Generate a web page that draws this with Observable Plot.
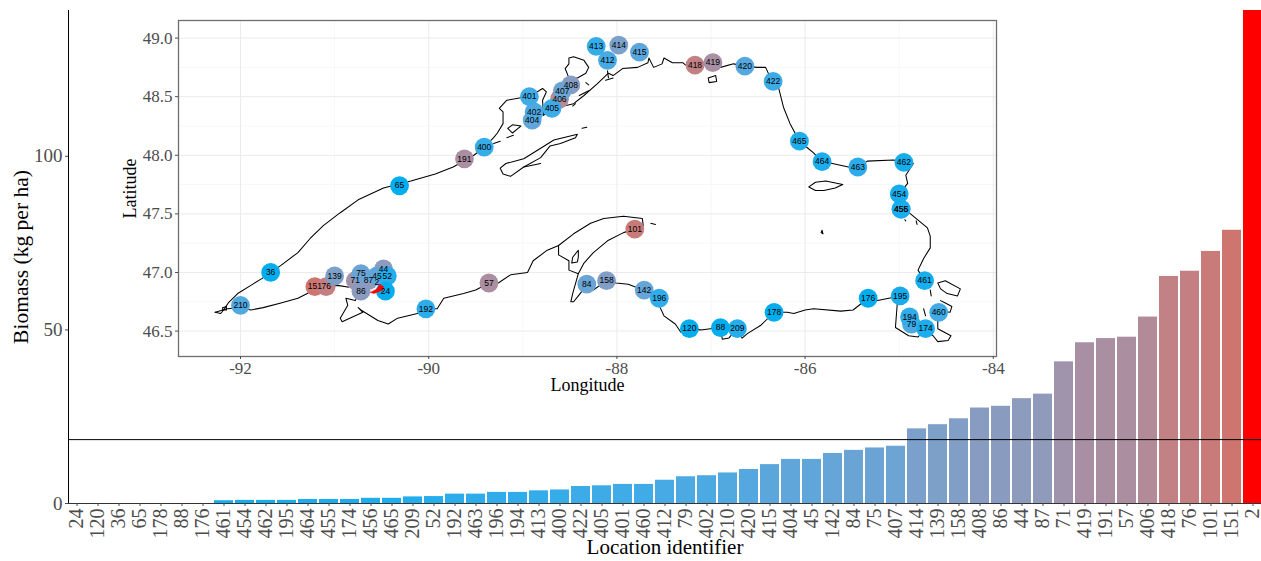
<!DOCTYPE html>
<html>
<head>
<meta charset="utf-8">
<script src="https://cdn.jsdelivr.net/npm/d3@7"></script>
<script src="https://cdn.jsdelivr.net/npm/@observablehq/plot@0.6"></script>
<style>
html,body{margin:0;padding:0;background:#fff;}
#chart{position:relative;width:1261px;height:561px;overflow:hidden;}
</style>
</head>
<body>
<div id="chart"></div>
<script>
const ids = ["24","120","36","65","178","88","176","461","454","462","195","464","455","174","456","465","209","52","192","463","196","194","413","400","422","405","401","460","412","79","402","210","420","415","404","45","142","84","75","407","414","139","158","408","86","44","87","71","419","191","57","406","418","76","101","151","2"];
const biomass = [0,0,0,0,0,0,0,0.8,0.9,0.9,0.9,1.15,1.15,1.15,1.5,1.5,1.9,2,2.7,2.7,3.2,3.2,3.65,3.9,4.9,5.1,5.5,5.5,6.7,7.7,8,8.8,9.8,11.2,12.7,12.7,14.4,15.3,16,16.5,21.5,22.7,24.4,27.5,28,30.2,31.5,40.8,46.3,47.5,47.9,53.7,65.4,66.9,72.6,78.7,142];
const mapLon = [-90.46,-87.23,-91.68,-90.31,-86.33,-86.90,-85.33,-84.73,-85.00,-84.95,-84.99,-85.82,-84.98,-84.72,-84.98,-86.06,-86.72,-90.44,-90.03,-85.44,-87.55,-84.89,-88.22,-89.41,-86.34,-88.69,-88.93,-84.58,-88.10,-84.87,-88.88,-92.00,-86.64,-87.76,-88.90,-90.55,-87.71,-88.32,-90.72,-88.58,-87.98,-91.00,-88.11,-88.49,-90.72,-90.48,-90.64,-90.78,-86.98,-89.62,-89.36,-88.61,-87.17,-91.09,-87.81,-91.21,-90.55];
const mapLat = [46.84,46.52,47.00,47.74,46.66,46.53,46.78,46.93,47.67,47.94,46.80,47.945,47.54,46.52,47.54,48.12,46.52,46.97,46.69,47.90,46.78,46.62,48.93,48.07,48.63,48.40,48.50,46.66,48.81,46.56,48.37,46.72,48.76,48.88,48.30,46.97,46.85,46.90,46.99,48.55,48.94,46.97,46.93,48.60,46.84,47.03,46.93,46.93,48.79,47.97,46.91,48.48,48.77,46.88,47.37,46.88,46.92];
const threshold = 18.4;
const biomassTicks = [0,50,100];
const lonMajor = [-92,-90,-88,-86,-84];
const lonMinor = [-91,-89,-87,-85];
const latMajor = [46.5,47,47.5,48,48.5,49];
const latMinor = [46.75,47.25,47.75,48.25,48.75];

const northShore = [[-92.27,46.66],[-92.21,46.65],[-92.18,46.68],[-92.13,46.74],[-92.03,46.82],[-91.89,46.89],[-91.77,46.95],[-91.57,47.06],[-91.39,47.17],[-91.26,47.29],[-91.12,47.40],[-90.94,47.51],[-90.75,47.62],[-90.48,47.72],[-90.19,47.78],[-90.06,47.81],[-89.93,47.84],[-89.74,47.90],[-89.52,48.00],[-89.41,48.07],[-89.31,48.15],[-89.27,48.19],[-89.21,48.27],[-89.21,48.37],[-89.25,48.40],[-89.17,48.47],[-89.02,48.49],[-88.93,48.50],[-88.79,48.57],[-88.75,48.54],[-88.79,48.47],[-88.78,48.34],[-88.68,48.40],[-88.46,48.44],[-88.35,48.51],[-88.21,48.61],[-88.09,48.70],[-88.04,48.68],[-87.94,48.74],[-87.78,48.75],[-87.67,48.79],[-87.66,48.83],[-87.61,48.75],[-87.52,48.78],[-87.50,48.83],[-87.41,48.79],[-87.30,48.79],[-87.27,48.77],[-87.16,48.77],[-86.98,48.78],[-86.90,48.75],[-86.76,48.78],[-86.64,48.76],[-86.51,48.75],[-86.42,48.75],[-86.35,48.63],[-86.28,48.57],[-86.23,48.41],[-86.16,48.27],[-86.06,48.12],[-85.97,48.06],[-85.91,48.02],[-85.83,47.95],[-85.71,47.93],[-85.54,47.90],[-85.43,47.90],[-85.34,47.95],[-85.06,47.96],[-84.95,47.94],[-84.85,47.93],[-84.93,47.83],[-84.91,47.76],[-85.00,47.67],[-84.98,47.55],[-84.88,47.50],[-84.70,47.38],[-84.67,47.31],[-84.67,47.21],[-84.74,47.12],[-84.80,47.02],[-84.73,46.93]];
const southShore = [[-84.56,46.76],[-84.51,46.74],[-84.44,46.71],[-84.46,46.66],[-84.57,46.67],[-84.59,46.59],[-84.59,46.52],[-84.45,46.46],[-84.48,46.42],[-84.59,46.41],[-84.64,46.46],[-84.72,46.51],[-84.80,46.45],[-84.90,46.46],[-85.04,46.53],[-85.02,46.74],[-84.99,46.80],[-85.23,46.76],[-85.33,46.78],[-85.49,46.68],[-85.62,46.67],[-85.91,46.69],[-86.00,46.68],[-86.12,46.65],[-86.19,46.66],[-86.33,46.66],[-86.47,46.55],[-86.61,46.48],[-86.67,46.44],[-86.73,46.52],[-86.81,46.44],[-86.88,46.43],[-86.90,46.53],[-87.11,46.51],[-87.23,46.52],[-87.32,46.49],[-87.38,46.56],[-87.50,46.63],[-87.54,46.70],[-87.55,46.78],[-87.72,46.85],[-87.88,46.90],[-88.01,46.91],[-88.11,46.93],[-88.25,46.85],[-88.31,46.90],[-88.41,46.80],[-88.46,46.75],[-88.49,46.75],[-88.47,46.82],[-88.41,46.99],[-88.35,47.08],[-88.25,47.17],[-88.10,47.27],[-87.93,47.34],[-87.81,47.37],[-87.72,47.40],[-87.73,47.46],[-87.93,47.48],[-88.14,47.46],[-88.28,47.42],[-88.46,47.33],[-88.62,47.23],[-88.74,47.19],[-88.89,47.10],[-88.95,47.00],[-89.13,46.98],[-89.26,46.91],[-89.36,46.91],[-89.50,46.85],[-89.63,46.82],[-89.84,46.78],[-89.91,46.69],[-90.03,46.69],[-90.12,46.65],[-90.33,46.61],[-90.43,46.56],[-90.54,46.59],[-90.72,46.68],[-90.75,46.70],[-90.70,46.66],[-90.92,46.58],[-90.94,46.61],[-90.86,46.72],[-90.88,46.78],[-90.78,46.76],[-90.76,46.80],[-90.81,46.87],[-90.97,46.89],[-91.09,46.88],[-91.21,46.88],[-91.29,46.82],[-91.39,46.78],[-91.57,46.74],[-91.76,46.70],[-91.89,46.68],[-92.00,46.70],[-92.14,46.69],[-92.27,46.66]];
const portage = [[-88.62,47.23],[-88.62,47.15],[-88.51,47.10],[-88.51,47.02],[-88.41,46.99]];
const torch = [[-88.47,47.13],[-88.41,47.19],[-88.41,47.13],[-88.42,47.09],[-88.48,47.08],[-88.47,47.13]];
const isleRoyale = [[-89.24,47.89],[-89.18,47.93],[-88.99,47.97],[-88.81,48.06],[-88.67,48.13],[-88.42,48.18],[-88.44,48.15],[-88.60,48.10],[-88.71,48.08],[-88.81,47.98],[-88.99,47.90],[-89.13,47.82],[-89.21,47.84],[-89.24,47.89]];
const royaleInner = [[-88.99,47.90],[-88.81,47.93]];
const blackBay = [[-88.51,48.83],[-88.46,48.84],[-88.35,48.81],[-88.30,48.75],[-88.33,48.70],[-88.42,48.66],[-88.51,48.66],[-88.55,48.74],[-88.51,48.78],[-88.51,48.83]];
const thunderIsle = [[-89.16,48.23],[-89.11,48.26],[-89.02,48.25],[-89.05,48.23],[-89.11,48.19],[-89.16,48.23]];
const drummond = [[-84.59,46.91],[-84.51,46.93],[-84.35,46.86],[-84.38,46.80],[-84.49,46.82],[-84.56,46.86],[-84.59,46.91]];
const michipicoten = [[-85.96,47.73],[-85.89,47.77],[-85.78,47.78],[-85.60,47.75],[-85.68,47.72],[-85.80,47.70],[-85.89,47.70],[-85.96,47.73]];
const slate = [[-87.03,48.66],[-86.95,48.68],[-86.94,48.63],[-87.02,48.62],[-87.03,48.66]];
const caribou = [[-85.82,47.36],[-85.81,47.33],[-85.83,47.34],[-85.82,47.36]];
const harbor = [[-92.19,46.70],[-92.15,46.71],[-92.15,46.68],[-92.19,46.68],[-92.19,46.70]];
const islets = [
  [[-89.31,48.10],[-89.24,48.12]],[[-89.17,48.15],[-89.10,48.17]],
  [[-88.40,48.51],[-88.30,48.55]],[[-88.47,48.42],[-88.44,48.44]],
  [[-88.12,48.64],[-88.04,48.66]],[[-88.33,48.62],[-88.30,48.60]],
  [[-88.10,48.72],[-88.09,48.66]],[[-88.37,48.23],[-88.32,48.24]],
  [[-87.64,47.42],[-87.59,47.41]],[[-84.94,47.45],[-84.93,47.44]],
  [[-84.82,47.44],[-84.81,47.41]],[[-84.67,46.85],[-84.66,46.80]],
  [[-84.74,46.69],[-84.72,46.63]]
];
const redPatch = [[-90.62,46.83],[-90.55,46.86],[-90.52,46.90],[-90.48,46.88],[-90.49,46.85],[-90.58,46.82],[-90.62,46.83]];

const sites = ids.map((id,i)=>({id,value:biomass[i],lon:mapLon[i],lat:mapLat[i]}));
const colorScale = {type:"linear",domain:[0,142],range:["#00AEEF","#FF0000"],interpolate:"lab"};
const serif = "'Liberation Serif','Times New Roman',serif";
const chart = document.getElementById("chart");

const main = Plot.plot({
  width:1261,height:561,
  marginLeft:68,marginRight:0,marginTop:10,marginBottom:58,
  style:{position:"absolute",left:"0",top:"0",fontFamily:serif,background:"transparent",maxWidth:"none"},
  x:{type:"band",domain:ids,range:[66.5,1261.5],paddingInner:0.1,paddingOuter:0,label:null},
  y:{domain:[0,142],label:null},
  color:colorScale,
  marks:[
    Plot.barY(sites,{x:"id",y:"value",fill:"value"}),
    Plot.ruleY([threshold],{stroke:"#000",strokeWidth:1}),
    Plot.frame({anchor:"left",stroke:"#000",strokeWidth:1}),
    Plot.frame({anchor:"bottom",stroke:"#333",strokeWidth:1}),
    Plot.axisY({ticks:biomassTicks,tickSize:3,tickPadding:3,fontSize:19,fontFamily:serif,color:"#4d4d4d",label:null}),
    Plot.axisX({tickRotate:-90,tickSize:3,tickPadding:2,fontSize:20,fontFamily:serif,color:"#4d4d4d",label:null}),
    Plot.text(["Biomass (kg per ha)"],{frameAnchor:"left",textAnchor:"middle",rotate:-90,dx:-47,fontSize:21.5,fill:"#000"}),
    Plot.text(["Location identifier"],{frameAnchor:"bottom",dy:50,fontSize:21,fill:"#000"})
  ]
});
chart.appendChild(main);

const coastStyle = {stroke:"#000",strokeWidth:1.05,curve:"linear"};
const outlines = [northShore,southShore,portage,torch,isleRoyale,royaleInner,blackBay,thunderIsle,drummond,michipicoten,slate,caribou,harbor,...islets];
const ordered = sites.slice().sort((a,b)=>b.value-a.value);

const inset = Plot.plot({
  width:900,height:390,
  marginLeft:58,marginRight:24,marginTop:10,marginBottom:44,
  style:{position:"absolute",left:"120px",top:"10px",fontFamily:serif,background:"transparent",maxWidth:"none"},
  x:{domain:[-92.659,-83.966],label:null},
  y:{domain:[46.283,49.15],label:null},
  color:colorScale,
  marks:[
    Plot.ruleX(lonMinor,{stroke:"#f3f3f3",strokeWidth:0.7}),
    Plot.ruleY(latMinor,{stroke:"#f3f3f3",strokeWidth:0.7}),
    Plot.ruleX(lonMajor,{stroke:"#ebebeb",strokeWidth:1}),
    Plot.ruleY(latMajor,{stroke:"#ebebeb",strokeWidth:1}),
    ...outlines.map(o=>Plot.line(o,coastStyle)),
    Plot.dot(ordered.filter(d=>d.id!=="2"),{x:"lon",y:"lat",r:9.4,fill:"value"}),
    Plot.line(redPatch,{fill:"#FF0000",stroke:"#FF0000",strokeWidth:0.5}),
    Plot.text(ordered,{x:"lon",y:"lat",text:"id",fontSize:8.5,fontFamily:"'Liberation Sans',Arial,sans-serif",fill:"#000"}),
    Plot.frame({stroke:"#6e6e6e",strokeWidth:1.3}),
    Plot.axisX({ticks:lonMajor,tickFormat:d=>String(d),tickSize:3,tickPadding:2,fontSize:17,fontFamily:serif,color:"#4d4d4d",label:null}),
    Plot.axisY({ticks:latMajor,tickFormat:d=>d.toFixed(1),tickSize:3,tickPadding:3,fontSize:17,fontFamily:serif,color:"#4d4d4d",label:null}),
    Plot.text(["Longitude"],{frameAnchor:"bottom",dy:34,fontSize:18,fill:"#000"}),
    Plot.text(["Latitude"],{frameAnchor:"left",textAnchor:"middle",rotate:-90,dx:-48,fontSize:18,fill:"#000"})
  ]
});
chart.appendChild(inset);
</script>
</body>
</html>
